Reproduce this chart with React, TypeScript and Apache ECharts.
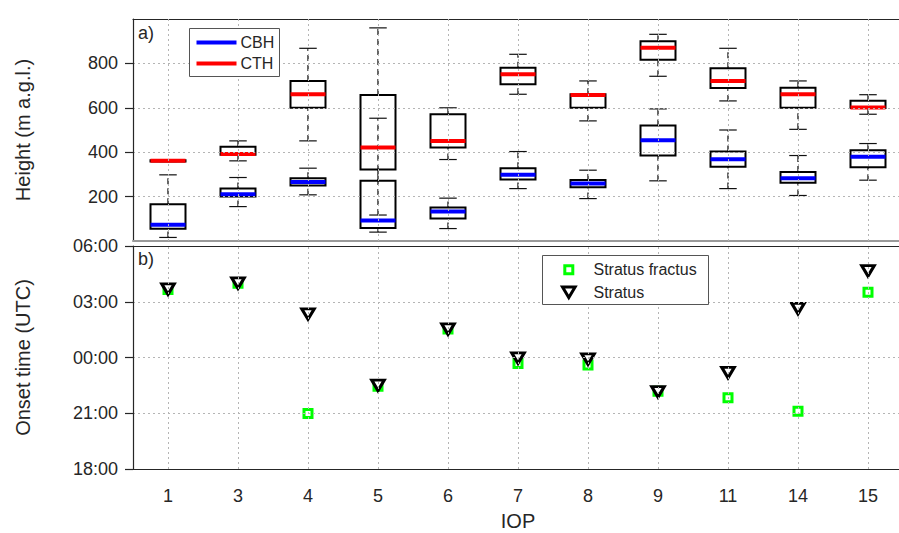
import React, { useEffect, useRef } from "react";
import * as echarts from "echarts";

// Intensive observation periods shown along the x axis
const iops = ["1", "3", "4", "5", "6", "7", "8", "9", "11", "14", "15"];

// Cloud base height per IOP: [min, q1, median, q3, max] in m a.g.l.
const cbhStats = [
  [16, 55, 73, 166, 298],
  [155, 200, 211, 236, 286],
  [208, 250, 266, 283, 328],
  [40, 58, 92, 271, 553],
  [56, 101, 133, 151, 193],
  [236, 277, 298, 328, 403],
  [191, 242, 259, 275, 319],
  [271, 385, 454, 520, 595],
  [236, 335, 368, 403, 500],
  [205, 262, 283, 311, 385],
  [274, 332, 379, 409, 439],
];

// Cloud top height per IOP: [min, q1, median, q3, max] in m a.g.l.
const cthStats = [
  [358, 358, 361, 364, 364],
  [361, 389, 392, 424, 451],
  [451, 600, 661, 721, 868],
  [117, 322, 421, 658, 960],
  [367, 421, 451, 571, 600],
  [661, 706, 751, 780, 841],
  [541, 600, 658, 661, 721],
  [742, 816, 870, 900, 931],
  [631, 689, 721, 778, 868],
  [503, 600, 661, 690, 721],
  [571, 599, 601, 632, 659],
];

// Onset time in hours relative to 00:00 UTC (negative = previous evening)
const stratusFractusOnset = [3.66, 4.0, -3.02, -1.55, 1.53, -0.32, -0.41, -1.81, -2.17, -2.89, 3.51];
const stratusOnset = [3.68, 4.0, 2.34, -1.5, 1.53, -0.03, -0.09, -1.85, -0.82, 2.63, 4.66];

// Axis ranges
const heightTicks = [0, 200, 400, 600, 800, 1000];
const onsetTicks = [-6, -3, 0, 3, 6];

const FONT = "'Liberation Sans', Arial, Helvetica, sans-serif";
const INK = "#262626";
const gridLine = () => ({ color: "#b5b5b5", width: 1, type: [2, 3] as number[] });

// vertical dotted grid lines through each IOP column
const categoryGrid = () => ({
  silent: true,
  symbol: ["none", "none"],
  label: { show: false },
  lineStyle: gridLine(),
  emphasis: { disabled: true },
  data: iops.map((c) => ({ xAxis: c })),
});

const formatHour = (h: number) => {
  const hh = ((Math.round(h) % 24) + 24) % 24;
  return `${hh < 10 ? "0" : ""}${hh}:00`;
};

const boxRenderer = (medianColor: string) => (params: any, api: any) => {
  const i = api.value(0);
  const mn = api.value(1);
  const q1 = api.value(2);
  const md = api.value(3);
  const q3 = api.value(4);
  const mx = api.value(5);
  const band = api.size([1, 0])[0];
  const half = band * 0.25;
  const capHalf = half * 0.5;
  const cx = api.coord([i, md])[0];
  const y = (v: number) => api.coord([i, v])[1];
  const whisker = { stroke: "#000", lineWidth: 1.2, lineDash: [6, 4], fill: null };
  const cap = { stroke: "#111", lineWidth: 1.2, fill: null };
  return {
    type: "group",
    children: [
      { type: "line", shape: { x1: cx, y1: y(q3), x2: cx, y2: y(mx) }, style: whisker },
      { type: "line", shape: { x1: cx, y1: y(mn), x2: cx, y2: y(q1) }, style: whisker },
      { type: "line", shape: { x1: cx - capHalf, y1: y(mx), x2: cx + capHalf, y2: y(mx) }, style: cap },
      { type: "line", shape: { x1: cx - capHalf, y1: y(mn), x2: cx + capHalf, y2: y(mn) }, style: cap },
      {
        type: "rect",
        shape: { x: cx - half, y: y(q3), width: 2 * half, height: y(q1) - y(q3) },
        style: { fill: null, stroke: "#000", lineWidth: 2 },
      },
      {
        type: "line",
        shape: { x1: cx - half, y1: y(md), x2: cx + half, y2: y(md) },
        style: { stroke: medianColor, lineWidth: 4 },
      },
    ],
  };
};

const downTriangle = "path://M0,0L20,0L10,17Z";

export default function App() {
  const ref = useRef<HTMLDivElement>(null);

  useEffect(() => {
    if (!ref.current) return;
    const chart = echarts.init(ref.current, undefined, { renderer: "svg" });

    const catAxisBase = {
      type: "category",
      data: iops,
      boundaryGap: true,
      axisLabel: { show: false },
      splitLine: { show: false },
    };

    const option: any = {
      animation: false,
      backgroundColor: "#fff",
      textStyle: { fontFamily: FONT, color: INK },
      grid: [
        { left: 133, top: 19, height: 222, right: 7 },
        { left: 133, top: 246, height: 223, right: 7 },
      ],
      xAxis: [
        {
          ...catAxisBase,
          gridIndex: 0,
          position: "bottom",
          axisLine: { onZero: false, lineStyle: { color: "#9a9a9a", width: 2 } },
          axisTick: { alignWithLabel: true, interval: 0, length: 6, lineStyle: { color: INK, width: 1.2 } },
        },
        {
          ...catAxisBase,
          gridIndex: 0,
          position: "top",
          axisLine: { onZero: false, lineStyle: { color: INK, width: 1.2 } },
          axisTick: { alignWithLabel: true, interval: 0, length: 8, lineStyle: { color: INK, width: 1.2 } },
        },
        {
          ...catAxisBase,
          gridIndex: 1,
          position: "bottom",
          name: "IOP",
          nameLocation: "middle",
          nameGap: 42,
          nameTextStyle: { fontSize: 20, color: INK, fontFamily: FONT },
          axisLine: { onZero: false, lineStyle: { color: INK, width: 1.2 } },
          axisTick: { alignWithLabel: true, interval: 0, length: 8, lineStyle: { color: INK, width: 1.2 } },
          axisLabel: { show: true, interval: 0, fontSize: 18, margin: 18, color: INK, fontFamily: FONT },
        },
        {
          ...catAxisBase,
          gridIndex: 1,
          position: "top",
          axisLine: { onZero: false, lineStyle: { color: INK, width: 1.2 } },
          axisTick: { show: false },
        },
      ],
      yAxis: [
        {
          gridIndex: 0,
          type: "value",
          min: heightTicks[0],
          max: heightTicks[heightTicks.length - 1],
          interval: heightTicks[1] - heightTicks[0],
          name: "Height (m a.g.l.)",
          nameLocation: "middle",
          nameGap: 100,
          nameTextStyle: { fontSize: 20, color: INK, fontFamily: FONT },
          axisLine: { show: true, lineStyle: { color: INK, width: 1.2 } },
          axisTick: { show: true, length: 8, lineStyle: { color: INK, width: 1.2 } },
          axisLabel: { fontSize: 18, margin: 15, color: INK, fontFamily: FONT, showMinLabel: false, showMaxLabel: false },
          splitLine: { show: true, lineStyle: gridLine() },
        },
        {
          gridIndex: 1,
          type: "value",
          min: onsetTicks[0],
          max: onsetTicks[onsetTicks.length - 1],
          interval: onsetTicks[1] - onsetTicks[0],
          name: "Onset time (UTC)",
          nameLocation: "middle",
          nameGap: 100,
          nameTextStyle: { fontSize: 20, color: INK, fontFamily: FONT },
          axisLine: { show: true, lineStyle: { color: INK, width: 1.2 } },
          axisTick: { show: true, length: 8, lineStyle: { color: INK, width: 1.2 } },
          axisLabel: { fontSize: 18, margin: 15, color: INK, fontFamily: FONT, formatter: (v: number) => formatHour(v) },
          splitLine: { show: true, lineStyle: gridLine() },
        },
      ],
      series: [
        {
          name: "CBH",
          type: "custom",
          xAxisIndex: 0,
          yAxisIndex: 0,
          renderItem: boxRenderer("#0000ff"),
          encode: { x: 0, y: [1, 2, 3, 4, 5] },
          data: cbhStats.map((s, i) => [i, ...s]),
          z: -1,
          markLine: categoryGrid(),
        },
        {
          name: "CTH",
          type: "custom",
          xAxisIndex: 0,
          yAxisIndex: 0,
          renderItem: boxRenderer("#ff0000"),
          encode: { x: 0, y: [1, 2, 3, 4, 5] },
          data: cthStats.map((s, i) => [i, ...s]),
          z: -1,
        },
        {
          name: "Stratus fractus",
          type: "scatter",
          xAxisIndex: 2,
          yAxisIndex: 1,
          symbol: "rect",
          symbolSize: 8,
          itemStyle: { color: "#ffffff", borderColor: "#00ff00", borderWidth: 3, opacity: 1 },
          data: stratusFractusOnset.map((v, i) => [i, v]),
          z: -1,
          markLine: categoryGrid(),
        },
        {
          name: "Stratus",
          type: "scatter",
          xAxisIndex: 2,
          yAxisIndex: 1,
          symbol: downTriangle,
          symbolSize: [12.5, 10.5],
          itemStyle: { color: "#ffffff", borderColor: "#000000", borderWidth: 3, opacity: 1 },
          data: stratusOnset.map((v, i) => [i, v]),
          z: -1,
        },
      ],
      graphic: [
        { type: "text", left: 138, top: 24, z: 100, style: { text: "a)", fontSize: 18, fill: INK, fontFamily: FONT } },
        { type: "text", left: 138, top: 250, z: 100, style: { text: "b)", fontSize: 18, fill: INK, fontFamily: FONT } },
        // legend of the height panel
        {
          type: "group",
          left: 189,
          top: 28,
          z: 100,
          children: [
            { type: "rect", z: 100, shape: { x: 0, y: 0, width: 90, height: 48 }, style: { fill: "#fff", stroke: "#555", lineWidth: 1 } },
            { type: "line", z: 101, shape: { x1: 7, y1: 14, x2: 47, y2: 14 }, style: { stroke: "#0000ff", lineWidth: 4 } },
            { type: "line", z: 101, shape: { x1: 7, y1: 35, x2: 47, y2: 35 }, style: { stroke: "#ff0000", lineWidth: 4 } },
            { type: "text", z: 101, x: 51, y: 14, style: { text: "CBH", fontSize: 16, fill: INK, fontFamily: FONT, verticalAlign: "middle" } },
            { type: "text", z: 101, x: 51, y: 35, style: { text: "CTH", fontSize: 16, fill: INK, fontFamily: FONT, verticalAlign: "middle" } },
          ],
        },
        // legend of the onset panel
        {
          type: "group",
          left: 542,
          top: 255,
          z: 100,
          children: [
            { type: "rect", z: 100, shape: { x: 0, y: 0, width: 166, height: 49 }, style: { fill: "#fff", stroke: "#555", lineWidth: 1 } },
            { type: "rect", z: 101, shape: { x: 22.3, y: 10.3, width: 8, height: 8 }, style: { fill: "#fff", stroke: "#00ff00", lineWidth: 3 } },
            {
              type: "polygon",
              z: 101,
              shape: { points: [[20, 31.5], [32.6, 31.5], [26.3, 42]] },
              style: { fill: "#fff", stroke: "#000", lineWidth: 3 },
            },
            { type: "text", z: 101, x: 51, y: 14.3, style: { text: "Stratus fractus", fontSize: 16, fill: INK, fontFamily: FONT, verticalAlign: "middle" } },
            { type: "text", z: 101, x: 51, y: 36.7, style: { text: "Stratus", fontSize: 16, fill: INK, fontFamily: FONT, verticalAlign: "middle" } },
          ],
        },
      ],
    };

    chart.setOption(option);
    return () => chart.dispose();
  }, []);

  return (
    <div style={{ position: "fixed", left: 0, top: 0, width: 899, height: 533, overflow: "hidden", background: "#fff" }}>
      <div ref={ref} style={{ width: 910, height: 533 }} />
    </div>
  );
}
